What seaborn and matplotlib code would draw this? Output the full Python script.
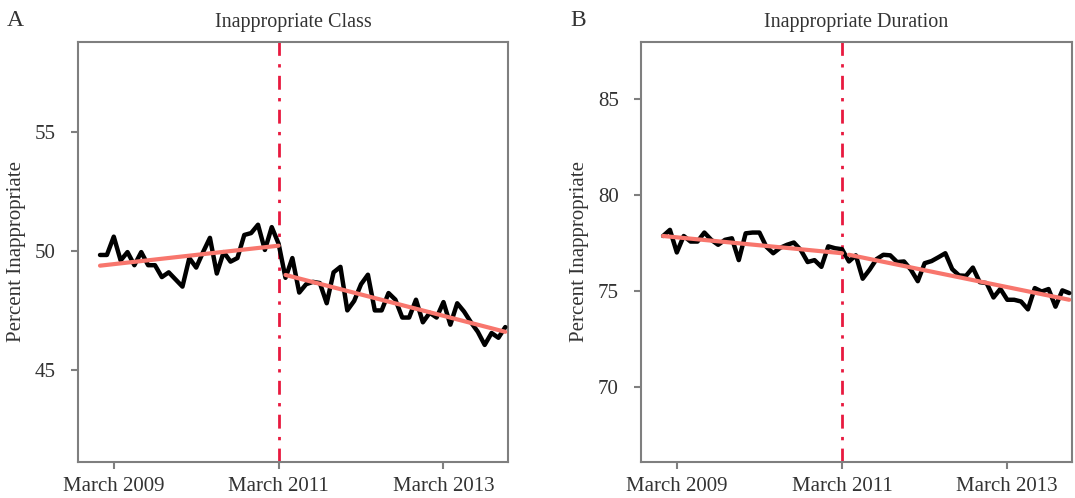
import numpy as np
import pandas as pd
import matplotlib
matplotlib.use('Agg')
import matplotlib.pyplot as plt
import seaborn as sns

sns.set_style("white")
plt.rcParams['font.family'] = ['Liberation Serif', 'DejaVu Serif']

# monthly series, Jan 2009 .. Dec 2013
months = list(range(60))
class_pct = [49.83, 49.83, 50.6, 49.6, 49.95, 49.4, 49.95, 49.4, 49.4, 48.9,
             49.1, 48.8, 48.5, 49.7, 49.3, 49.95, 50.55, 49.05, 49.95, 49.55,
             49.7, 50.67, 50.75, 51.1, 50.04, 51.0, 50.3, 48.87, 49.7, 48.25,
             48.6, 48.7, 48.65, 47.8, 49.1, 49.33, 47.5, 47.9, 48.6, 49.0,
             47.5, 47.5, 48.23, 47.95, 47.2, 47.2, 47.95, 47.0, 47.4, 47.2,
             47.85, 46.9, 47.8, 47.45, 47.0, 46.6, 46.05, 46.55, 46.35, 46.8]
duration_pct = [77.86, 78.18, 77.0, 77.86, 77.57, 77.57, 78.04, 77.66, 77.4, 77.66,
                77.74, 76.6, 78.0, 78.04, 78.04, 77.3, 76.96, 77.24, 77.4, 77.52,
                77.13, 76.5, 76.6, 76.25, 77.32, 77.22, 77.17, 76.53, 76.85, 75.63,
                76.1, 76.65, 76.88, 76.85, 76.5, 76.53, 76.1, 75.5, 76.44, 76.55,
                76.75, 76.96, 76.13, 75.8, 75.78, 76.21, 75.45, 75.4, 74.65, 75.1,
                74.53, 74.53, 74.44, 74.03, 75.14, 74.96, 75.09, 74.17, 75.02, 74.88]

# segmented trend (start/end month, start/end value)
trend_months_pre = [0, 26]
trend_months_post = [27, 59]
class_trend_pre = [49.38, 50.22]
class_trend_post = [48.99, 46.6]
duration_trend_pre = [77.86, 76.96]
duration_trend_post = [76.88, 74.53]

intervention_month = 26
tick_months = [2, 26, 50]
tick_labels = ['March 2009', 'March 2011', 'March 2013']

panels = ['A', 'B']
titles = ['Inappropriate Class', 'Inappropriate Duration']
yticks = [[45, 50, 55], [70, 75, 80, 85]]
ylims = [(41.13, 58.78), (66.06, 87.99)]

frame_col = '#7f7f7f'
text_col = '#333333'


def draw_panel(ax, series, pre, post, letter, title, ticks, ylim):
    df = pd.DataFrame({'month': months, 'pct': series})
    sns.lineplot(data=df, x='month', y='pct', ax=ax, color='black', lw=3.2,
                 zorder=3)
    for mm, vv in [(trend_months_pre, pre), (trend_months_post, post)]:
        sns.lineplot(x=mm, y=vv, ax=ax, color='#F8766D', lw=3, zorder=4)
    ax.axvline(intervention_month, color='#E8193F', lw=2,
               ls=(0, (5, 3, 1.2, 3)), zorder=2)
    ax.set_xlim(-3.2, 59.4)
    ax.set_ylim(*ylim)
    ax.set_xticks(tick_months)
    ax.set_xticklabels(tick_labels)
    ax.set_yticks(ticks)
    ax.set_xlabel('')
    ax.set_ylabel('Percent Inappropriate', fontsize=15, color=text_col,
                  labelpad=6)
    ax.tick_params(axis='both', length=5, width=1.5, color=frame_col,
                   labelsize=15, labelcolor=text_col, direction='out',
                   bottom=True, left=True)
    ax.tick_params(axis='x', pad=6)
    ax.tick_params(axis='y', pad=11)
    for sp in ax.spines.values():
        sp.set_color(frame_col)
        sp.set_linewidth(1.5)
    ax.set_title(title, fontsize=14.5, color=text_col, pad=11)
    ax.text(-0.145, 1.052, letter, transform=ax.transAxes, fontsize=17,
            color=text_col, ha='center', va='center')


def main():
    fig = plt.figure(figsize=(10.75, 4.98), dpi=100)
    ax1 = fig.add_axes([0.0726, 0.0723, 0.400, 0.8434])
    ax2 = fig.add_axes([0.5963, 0.0723, 0.4009, 0.8434])
    draw_panel(ax1, class_pct, class_trend_pre, class_trend_post,
               panels[0], titles[0], yticks[0], ylims[0])
    draw_panel(ax2, duration_pct, duration_trend_pre, duration_trend_post,
               panels[1], titles[1], yticks[1], ylims[1])
    fig.savefig('out.png', dpi=100)


if __name__ == '__main__':
    main()
